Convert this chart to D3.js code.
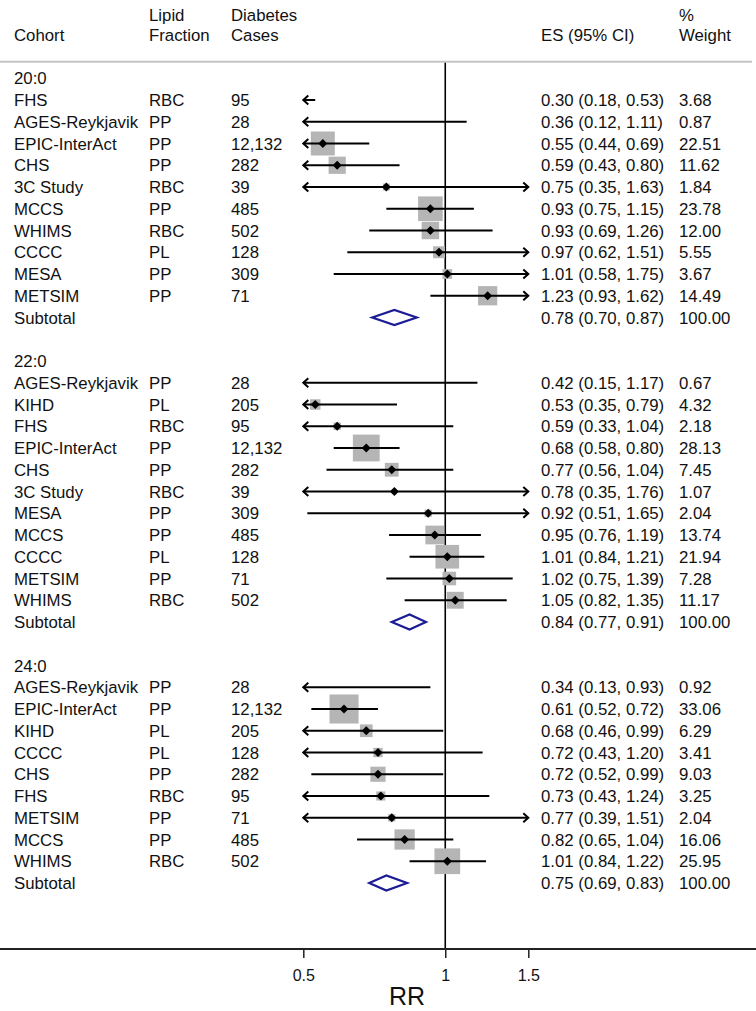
<!DOCTYPE html>
<html>
<head>
<meta charset="utf-8">
<script src="https://cdn.jsdelivr.net/npm/d3@7"></script>
<style>
  html, body { margin: 0; padding: 0; background: #fff; }
  svg { display: block; }
  text { font-family: "Liberation Sans", Arial, Helvetica, sans-serif; fill: #111; }
</style>
</head>
<body>
<svg id="chart" width="756" height="1011"></svg>
<script>
// ---------------- DATA ----------------
const groups = ["20:0", "22:0", "24:0"];

// study rows (group index, cohort, lipid fraction, cases, ES, lower, upper, weight)
const rowGroup = [0,0,0,0,0,0,0,0,0,0, 1,1,1,1,1,1,1,1,1,1,1, 2,2,2,2,2,2,2,2,2];
const cohorts = [
  "FHS","AGES-Reykjavik","EPIC-InterAct","CHS","3C Study","MCCS","WHIMS","CCCC","MESA","METSIM",
  "AGES-Reykjavik","KIHD","FHS","EPIC-InterAct","CHS","3C Study","MESA","MCCS","CCCC","METSIM","WHIMS",
  "AGES-Reykjavik","EPIC-InterAct","KIHD","CCCC","CHS","FHS","METSIM","MCCS","WHIMS"
];
const fractions = [
  "RBC","PP","PP","PP","RBC","PP","RBC","PL","PP","PP",
  "PP","PL","RBC","PP","PP","RBC","PP","PP","PL","PP","RBC",
  "PP","PP","PL","PL","PP","RBC","PP","PP","RBC"
];
const cases = [
  "95","28","12,132","282","39","485","502","128","309","71",
  "28","205","95","12,132","282","39","309","485","128","71","502",
  "28","12,132","205","128","282","95","71","485","502"
];
const es = [
  0.30,0.36,0.55,0.59,0.75,0.93,0.93,0.97,1.01,1.23,
  0.42,0.53,0.59,0.68,0.77,0.78,0.92,0.95,1.01,1.02,1.05,
  0.34,0.61,0.68,0.72,0.72,0.73,0.77,0.82,1.01
];
const lower = [
  0.18,0.12,0.44,0.43,0.35,0.75,0.69,0.62,0.58,0.93,
  0.15,0.35,0.33,0.58,0.56,0.35,0.51,0.76,0.84,0.75,0.82,
  0.13,0.52,0.46,0.43,0.52,0.43,0.39,0.65,0.84
];
const upper = [
  0.53,1.11,0.69,0.80,1.63,1.15,1.26,1.51,1.75,1.62,
  1.17,0.79,1.04,0.80,1.04,1.76,1.65,1.19,1.21,1.39,1.35,
  0.93,0.72,0.99,1.20,0.99,1.24,1.51,1.04,1.22
];
const weights = [
  3.68,0.87,22.51,11.62,1.84,23.78,12.00,5.55,3.67,14.49,
  0.67,4.32,2.18,28.13,7.45,1.07,2.04,13.74,21.94,7.28,11.17,
  0.92,33.06,6.29,3.41,9.03,3.25,2.04,16.06,25.95
];

// subtotals per group
const subES = [0.78, 0.84, 0.75];
const subLower = [0.70, 0.77, 0.69];
const subUpper = [0.87, 0.91, 0.83];
const subWeight = [100.00, 100.00, 100.00];

const xTicks = [0.5, 1, 1.5];
const axisTitle = "RR";

// ---------------- LAYOUT ----------------
const svg = d3.select("#chart");
const W = 756;
const fontSize = 16.8;

const x = d3.scaleLog().domain([0.5, 1.5]).range([303.3, 528.3]);
const nRowsTotal = 38;
const y = d3.scaleLinear().domain([0, nRowsTotal - 1]).range([78.25, 883]);

const colCohort = 14, colFrac = 149, colCases = 231, colES = 541, colW = 679;
const axisY = 949;
const headerLineY = 61.7;
const boxK = 5.05;

// build row list
const rows = [];
let idx = 0;
groups.forEach((g, gi) => {
  rows.push({type: "group", label: g, i: idx++});
  rowGroup.forEach((rg, k) => {
    if (rg === gi) rows.push({type: "study", k, i: idx++});
  });
  rows.push({type: "sub", g: gi, i: idx++});
  idx++; // blank
});

const fmt = d3.format(".2f");

// header
const hdr = svg.append("g");
function htext(xp, yp, t) {
  hdr.append("text").attr("x", xp).attr("y", yp).attr("dy", "0.36em")
    .style("font-size", fontSize + "px").text(t);
}
htext(colCohort, 35, "Cohort");
htext(colFrac, 14.5, "Lipid");
htext(colFrac, 35, "Fraction");
htext(colCases, 14.5, "Diabetes");
htext(colCases, 35, "Cases");
htext(colES, 35, "ES (95% CI)");
htext(colW, 14.5, "%");
htext(colW, 35, "Weight");

svg.append("line").attr("x1", 0).attr("x2", 752)
  .attr("y1", headerLineY).attr("y2", headerLineY)
  .attr("stroke", "#c4c4c4").attr("stroke-width", 2);

// reference line at 1
svg.append("line").attr("x1", x(1)).attr("x2", x(1))
  .attr("y1", headerLineY + 1).attr("y2", axisY)
  .attr("stroke", "#000").attr("stroke-width", 1.6);

const [dLo, dHi] = x.domain();
const marks = svg.append("g");
const texts = svg.append("g");

function rowText(xp, yp, t) {
  texts.append("text").attr("x", xp).attr("y", yp).attr("dy", "0.36em")
    .style("font-size", fontSize + "px").text(t);
}

rows.forEach(r => {
  const yy = y(r.i);
  if (r.type === "group") {
    rowText(colCohort, yy, r.label);
  } else if (r.type === "study") {
    const k = r.k;
    rowText(colCohort, yy, cohorts[k]);
    rowText(colFrac, yy, fractions[k]);
    rowText(colCases, yy, cases[k]);
    rowText(colES, yy, `${fmt(es[k])} (${fmt(lower[k])}, ${fmt(upper[k])})`);
    rowText(colW, yy, fmt(weights[k]));

    const inRange = es[k] >= dLo && es[k] <= dHi;
    if (inRange) {
      const s = boxK * Math.sqrt(weights[k]);
      marks.append("rect").attr("x", x(es[k]) - s / 2).attr("y", yy - s / 2)
        .attr("width", s).attr("height", s).attr("fill", "#b5b5b5");
    }
    const lo = Math.max(lower[k], dLo), hi = Math.min(upper[k], dHi);
    marks.append("line").attr("x1", x(lo)).attr("x2", x(hi))
      .attr("y1", yy).attr("y2", yy).attr("stroke", "#000").attr("stroke-width", 2);
    if (lower[k] < dLo) {
      const tx = x(dLo);
      marks.append("path").attr("d", `M${tx + 5},${yy - 4.5}L${tx},${yy}L${tx + 5},${yy + 4.5}`)
        .attr("fill", "none").attr("stroke", "#000").attr("stroke-width", 2);
    }
    if (upper[k] > dHi) {
      const tx = x(dHi);
      marks.append("path").attr("d", `M${tx - 5},${yy - 4.5}L${tx},${yy}L${tx - 5},${yy + 4.5}`)
        .attr("fill", "none").attr("stroke", "#000").attr("stroke-width", 2);
    }
    if (inRange) {
      const cx = x(es[k]), m = 4.5;
      marks.append("path").attr("d", `M${cx - m},${yy}L${cx},${yy - m}L${cx + m},${yy}L${cx},${yy + m}Z`)
        .attr("fill", "#000");
    }
  } else if (r.type === "sub") {
    const g = r.g;
    rowText(colCohort, yy, "Subtotal");
    rowText(colES, yy, `${fmt(subES[g])} (${fmt(subLower[g])}, ${fmt(subUpper[g])})`);
    rowText(colW, yy, fmt(subWeight[g]));
    const h = 7.5;
    marks.append("path")
      .attr("d", `M${x(subLower[g])},${yy}L${x(subES[g])},${yy - h}L${x(subUpper[g])},${yy}L${x(subES[g])},${yy + h}Z`)
      .attr("fill", "none").attr("stroke", "#1c1c96").attr("stroke-width", 2.2);
  }
});

// axis
svg.append("line").attr("x1", 0).attr("x2", W).attr("y1", axisY).attr("y2", axisY)
  .attr("stroke", "#222").attr("stroke-width", 2);
const axis = d3.axisBottom(x).tickValues(xTicks).tickFormat(d => d3.format("")(d))
  .tickSize(9).tickPadding(11.5);
const ag = svg.append("g").attr("transform", `translate(0,${axisY})`).call(axis);
ag.select(".domain").remove();
ag.selectAll(".tick line").attr("stroke", "#222").attr("stroke-width", 1.5);
ag.selectAll(".tick text").style("font-size", "16px")
  .style("font-family", '"Liberation Sans", Arial, Helvetica, sans-serif').attr("fill", "#111");

svg.append("text").attr("x", 407).attr("y", 995.5).attr("dy", "0.36em")
  .attr("text-anchor", "middle").style("font-size", "25px").text(axisTitle);
</script>
</body>
</html>
